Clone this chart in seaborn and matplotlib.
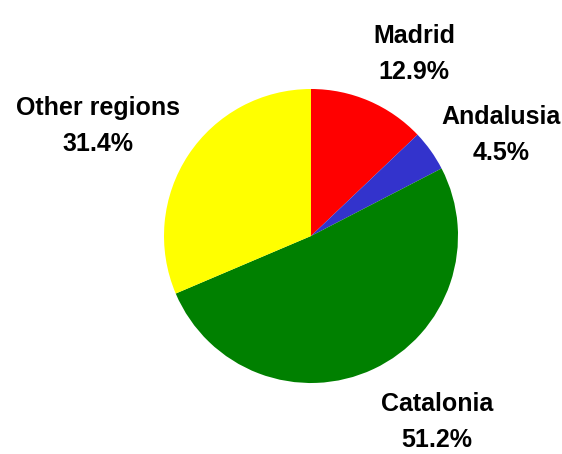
import matplotlib
matplotlib.use("Agg")
import matplotlib.pyplot as plt
import seaborn as sns

regions = ["Madrid", "Andalusia", "Catalonia", "Other regions"]
shares = [12.9, 4.5, 51.2, 31.4]
colors = ["#FF0000", "#3333CC", "#008000", "#FFFF00"]

# label anchor points (pixel layout, y measured from top)
label_xy = [(414, 54), (501, 135), (437, 422), (98, 126)]

sns.set_theme(style="white")
plt.rcParams["font.family"] = ["Liberation Sans", "DejaVu Sans"]

W, H = 562, 454
fig = plt.figure(figsize=(W / 100, H / 100), dpi=100)
ax = fig.add_axes([0, 0, 1, 1])
ax.set_xlim(0, W)
ax.set_ylim(0, H)
ax.set_aspect("equal")
ax.axis("off")

ax.pie(shares, colors=colors, startangle=90, counterclock=False,
       center=(311, H - 236), radius=147,
       wedgeprops=dict(linewidth=0, antialiased=True))
ax.set_xlim(0, W)
ax.set_ylim(0, H)

for name, val, (x, y) in zip(regions, shares, label_xy):
    ax.text(x, H - y, f"{name}\n{val:.1f}%", ha="center", va="center",
            fontsize=18, fontweight="bold", color="black", linespacing=1.6)

fig.savefig("out.png", dpi=100, facecolor="white")
